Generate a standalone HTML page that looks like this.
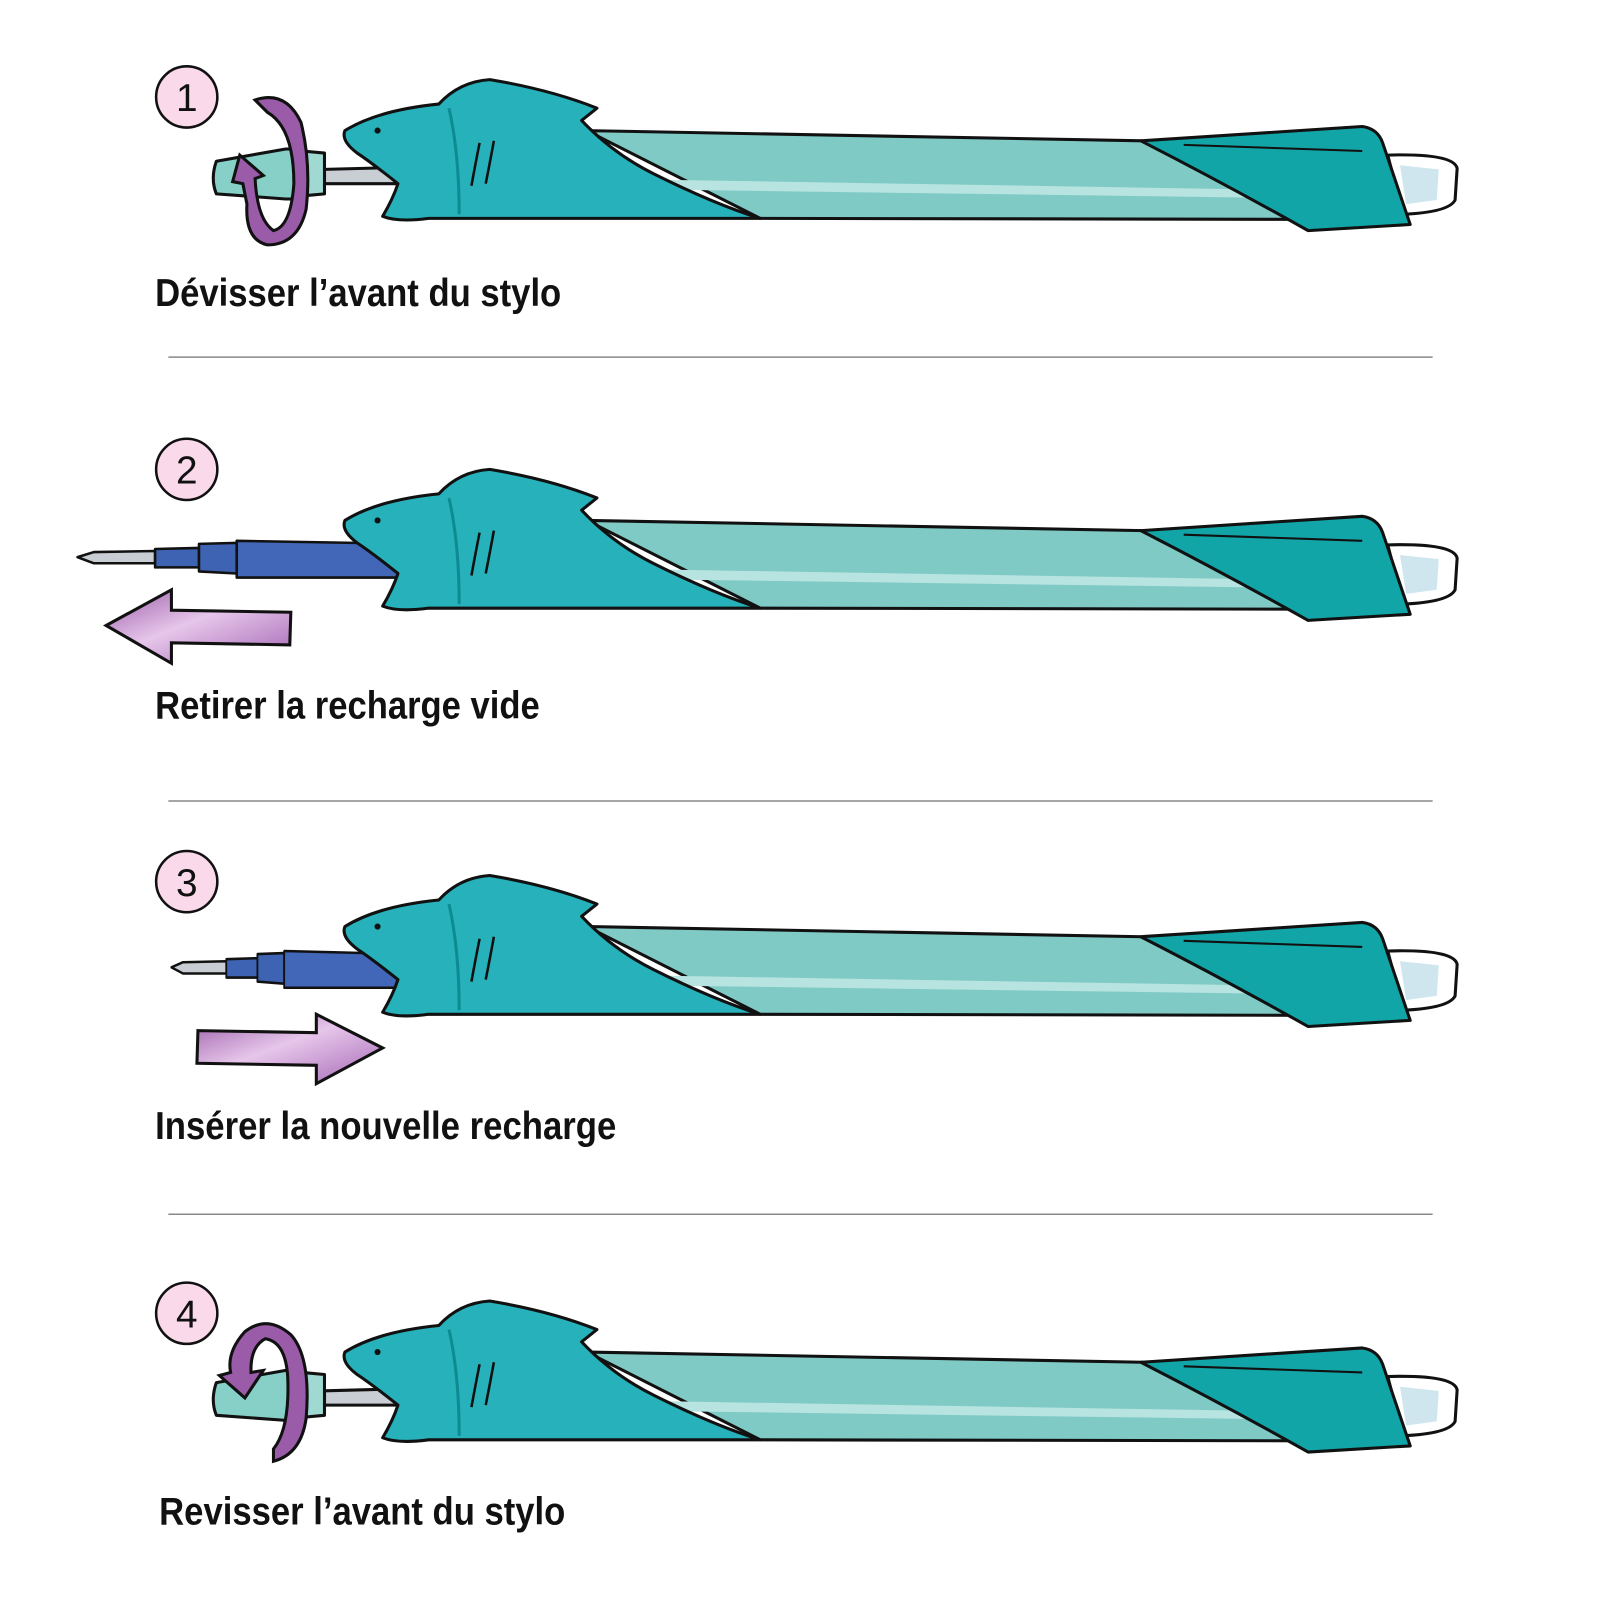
<!DOCTYPE html>
<html><head><meta charset="utf-8"><style>html,body{margin:0;padding:0;background:#fff}svg{display:block}</style></head>
<body>
<svg width="1600" height="1600" viewBox="0 0 1568 1568" xmlns="http://www.w3.org/2000/svg">
<defs>
<linearGradient id="pg" x1="0" y1="0" x2="1" y2="1"><stop offset="0" stop-color="#9a5ca8"/><stop offset="0.45" stop-color="#e6c6ea"/><stop offset="1" stop-color="#a566b5"/></linearGradient>
<g id="pen" stroke="#111" stroke-width="3" stroke-linejoin="round">
  <path d="M575 128 L1120 138 L1290 215 L745 214 Z" fill="#7fcac5"/>
  <path d="M640 176 L1250 186 L1255 194 L660 186 Z" fill="#b7e3e0" stroke="none"/>
  <path d="M1360 152 Q1425 150 1428 165 L1426 196 Q1420 208 1375 210 Z" fill="#fff"/>
  <path d="M1372 162 L1410 166 L1408 196 L1378 200 Z" fill="#cfe6ef" stroke="none"/>
  <path d="M1118 138 L1335 124 Q1350 126 1355 140 L1382 220 L1282 226 Q1200 180 1118 138 Z" fill="#12a5a8"/>
  <path d="M1160 142 L1335 148" stroke="#111" stroke-width="2" fill="none"/>
  <path d="M338 128 Q370 108 430 102 Q450 80 480 78 Q540 88 585 106 L570 118 Q600 150 640 170 Q700 200 745 214 L420 214 Q390 218 375 212 Q385 195 390 180 Q365 160 350 150 Q334 138 338 128 Z" fill="#27b1bb"/>
  <path d="M440 106 Q450 150 450 210" fill="none" stroke="#0c8c92" stroke-width="3"/>
  <path d="M470 140 Q466 160 462 182 M484 138 Q480 160 476 180" fill="none" stroke="#111" stroke-width="2.5"/>
  <circle cx="370" cy="128" r="3" fill="#111" stroke="none"/>
</g>
<g id="cap" stroke="#111" stroke-width="3" stroke-linejoin="round">
  <path d="M318 166 L395 164 L395 180 L318 180 Z" fill="#c9cdd4"/>
  <path d="M212 158 L280 146 L298 146 L298 195 L280 195 L212 190 Q206 175 212 158 Z" fill="#86d0c8"/>
  <path d="M296 148 L318 150 L318 190 L296 192 Z" fill="#9fd9d2"/>
</g>
<g id="refill" stroke="#111" stroke-width="2.5" stroke-linejoin="round">
  <path d="M76 546 L92 541 L152 540 L152 552 L92 552 Z" fill="#c8ccd3"/>
  <path d="M152 538 L195 537 L195 556 L152 556 Z" fill="#3d63b2"/>
  <path d="M195 533 L232 532 L232 562 L195 560 Z" fill="#3d63b2"/>
  <path d="M232 530 L400 533 L400 566 L232 566 Z" fill="#4266b8"/>
</g>
</defs>

<g font-family="'Liberation Sans Narrow','Liberation Sans',sans-serif" font-weight="bold" fill="#111">
<!-- Row 1 -->
<use href="#cap"/>
<use href="#pen"/>
<path d="M250 98 Q280 88 295 120 Q305 160 300 205 Q292 240 262 240 Q240 235 242 200 L238 180 L228 178 L235 152 L258 172 L250 175 Q252 215 268 226 Q285 222 288 180 Q288 125 262 110 Z" fill="#9a5ca8" stroke="#111" stroke-width="3"/>
<circle cx="183" cy="95" r="30" fill="#fad9ea" stroke="#111" stroke-width="2.5"/>
<text x="183" y="109" font-size="38" text-anchor="middle" font-weight="normal">1</text>
<text x="152" y="300" font-size="38" textLength="398" lengthAdjust="spacingAndGlyphs">Dévisser l’avant du stylo</text>
<line x1="165" y1="350" x2="1404" y2="350" stroke="#888" stroke-width="1.5"/>

<!-- Row 2 -->
<use href="#refill"/>
<use href="#pen" transform="translate(0,382)"/>
<path d="M104 613 L168 578 L168 598 L285 600 L284 632 L168 630 L168 650 Z" fill="url(#pg)" stroke="#111" stroke-width="3"/>
<circle cx="183" cy="460" r="30" fill="#fad9ea" stroke="#111" stroke-width="2.5"/>
<text x="183" y="474" font-size="38" text-anchor="middle" font-weight="normal">2</text>
<text x="152" y="704" font-size="38" textLength="377" lengthAdjust="spacingAndGlyphs">Retirer la recharge vide</text>
<line x1="165" y1="785" x2="1404" y2="785" stroke="#888" stroke-width="1.5"/>

<!-- Row 3 -->
<use href="#refill" transform="matrix(0.709 0 0 1 114 402)"/>
<use href="#pen" transform="translate(0,780)"/>
<path d="M194 1010 L310 1012 L310 994 L375 1027 L310 1062 L310 1044 L193 1042 Z" fill="url(#pg)" stroke="#111" stroke-width="3"/>
<circle cx="183" cy="864" r="30" fill="#fad9ea" stroke="#111" stroke-width="2.5"/>
<text x="183" y="878" font-size="38" text-anchor="middle" font-weight="normal">3</text>
<text x="152" y="1116" font-size="38" textLength="452" lengthAdjust="spacingAndGlyphs">Insérer la nouvelle recharge</text>
<line x1="165" y1="1190" x2="1404" y2="1190" stroke="#888" stroke-width="1.5"/>

<!-- Row 4 -->
<use href="#cap" transform="translate(0,1197)"/>
<use href="#pen" transform="translate(0,1197)"/>
<path d="M268 1432 Q295 1425 300 1390 Q305 1330 285 1308 Q262 1288 240 1305 Q222 1325 226 1345 L215 1348 L240 1370 L258 1343 L246 1345 Q245 1320 260 1312 Q280 1315 282 1350 Q284 1400 268 1420 Z" fill="#9a5ca8" stroke="#111" stroke-width="3"/>
<circle cx="183" cy="1287" r="30" fill="#fad9ea" stroke="#111" stroke-width="2.5"/>
<text x="183" y="1301" font-size="38" text-anchor="middle" font-weight="normal">4</text>
<text x="156" y="1494" font-size="38" textLength="398" lengthAdjust="spacingAndGlyphs">Revisser l’avant du stylo</text>
</g>
</svg>
</body></html>
